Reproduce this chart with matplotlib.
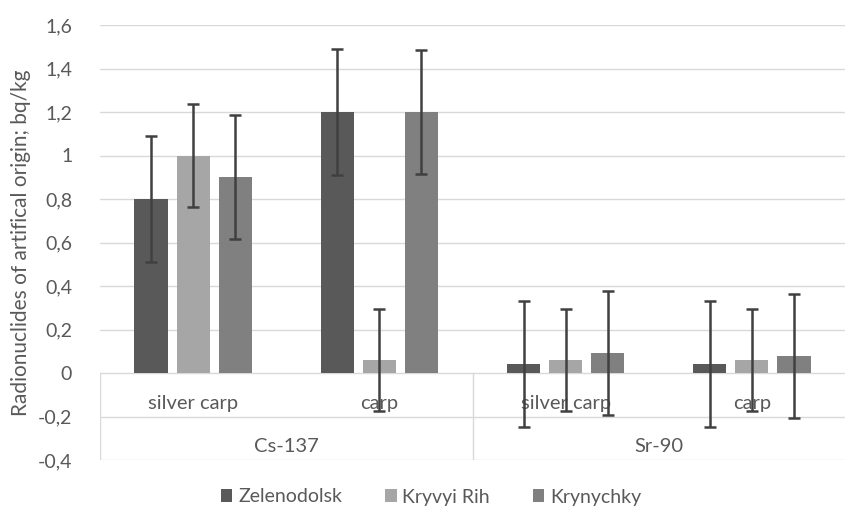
import matplotlib.pyplot as plt
import numpy as np

plt.rcParams['font.family'] = ['Lato', 'DejaVu Sans']

# data
fish = ['silver carp', 'carp', 'silver carp', 'carp']
isotopes = ['Cs-137', 'Sr-90']
sites = ['Zelenodolsk', 'Kryvyi Rih', 'Krynychky']
zelenodolsk = [0.8, 1.2, 0.04, 0.04]
kryvyi_rih = [1.0, 0.06, 0.06, 0.06]
krynychky = [0.9, 1.2, 0.09, 0.08]
err_zel = [0.29, 0.29, 0.29, 0.29]
err_kr = [0.235, 0.235, 0.235, 0.235]
err_kryn = [0.285, 0.285, 0.285, 0.285]
yticks = [-0.4, -0.2, 0, 0.2, 0.4, 0.6, 0.8, 1.0, 1.2, 1.4, 1.6]

colors = ['#595959', '#a6a6a6', '#808080']
txt = '#595959'
fs = 14.5

fig = plt.figure(figsize=(8.48, 5.21), dpi=100)
ax = fig.add_axes([100/848, 1 - 460/521, 745/848, 435/521])

x = np.arange(len(fish))
w = 0.178
step = 0.226
series = [zelenodolsk, kryvyi_rih, krynychky]
errs = [err_zel, err_kr, err_kryn]
for i, (vals, e) in enumerate(zip(series, errs)):
    pos = x + (i - 1) * step
    ax.bar(pos, vals, width=w, color=colors[i], label=sites[i], zorder=2)
    ax.errorbar(pos, vals, yerr=e, fmt='none', ecolor='#404040',
                elinewidth=1.8, capsize=4.5, capthick=1.8, zorder=4)

ax.set_xlim(-0.5, 3.5)
ax.set_ylim(-0.4, 1.6)
ax.set_yticks(yticks)
ax.set_yticklabels([('%g' % v).replace('.', ',') for v in yticks],
                   fontsize=14, color=txt)
ax.set_xticks([])
ax.tick_params(axis='y', length=0, pad=20)
for s in ax.spines.values():
    s.set_visible(False)
ax.grid(axis='y', color='#d9d9d9', linewidth=1, zorder=0)
ax.set_axisbelow(True)

# multi-level category axis
ax.plot([-0.5, -0.5], [0, -0.4], color='#d9d9d9', lw=1, zorder=1)
ax.plot([1.5, 1.5], [0, -0.4], color='#d9d9d9', lw=1, zorder=1)
for xi, name in zip(x, fish):
    ax.text(xi, -0.14, name, ha='center', va='center', fontsize=fs, color=txt, zorder=3)
for gi, name in enumerate(isotopes):
    ax.text(0.5 + 2 * gi, -0.34, name, ha='center', va='center', fontsize=fs, color=txt, zorder=3)

ax.set_ylabel('Radionuclides of artifical origin; bq/kg', fontsize=15, color=txt, labelpad=5)

leg = fig.legend(loc='center', bbox_to_anchor=(431/848, 1 - 497/521), ncol=3,
                 frameon=False, fontsize=14, handlelength=0.6, handleheight=0.6,
                 handletextpad=0.3, columnspacing=2.2)
for t in leg.get_texts():
    t.set_color(txt)

fig.savefig('out.png', dpi=100)
